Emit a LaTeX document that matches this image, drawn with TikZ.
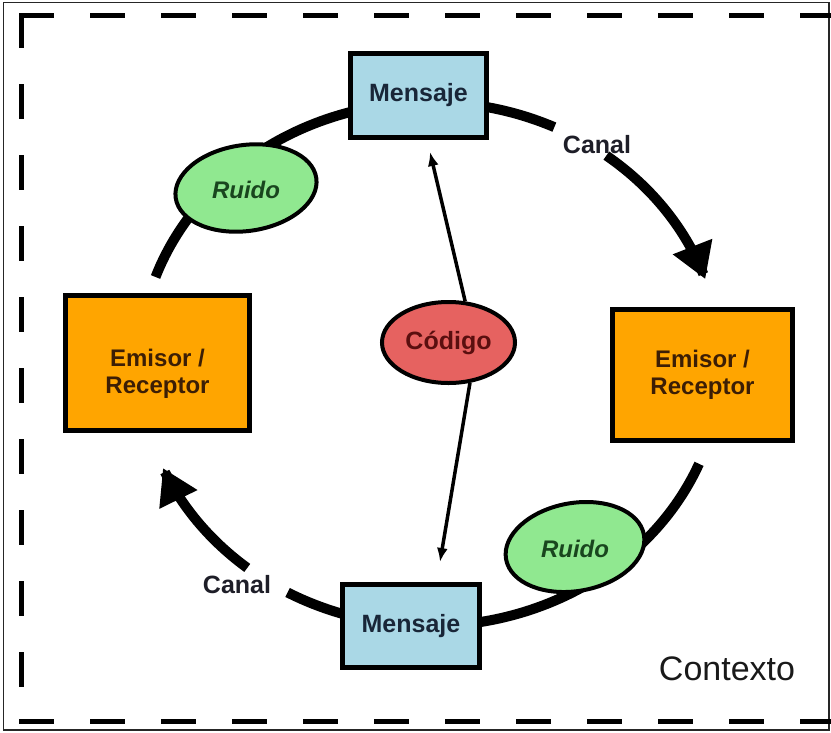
\documentclass[tikz,border=0pt]{standalone}
\usepackage{fontspec}
\setmainfont{Liberation Sans}
\usetikzlibrary{arrows.meta,shapes.geometric}
\pgfdeclarelayer{background}
\pgfsetlayers{background,main}
\definecolor{msgblue}{RGB}{170,216,230}
\definecolor{emorange}{RGB}{255,165,0}
\definecolor{ruidogreen}{RGB}{144,232,144}
\definecolor{codred}{RGB}{230,98,96}
\definecolor{msgtext}{RGB}{25,38,56}
\definecolor{emtext}{RGB}{60,30,5}
\definecolor{rutext}{RGB}{25,70,30}
\definecolor{codtext}{RGB}{90,15,15}
\definecolor{labtext}{RGB}{30,30,40}
\begin{document}
\begin{tikzpicture}[x=1pt,y=-1pt,
  msgbox/.style={draw=black, line width=5pt, fill=msgblue, inner sep=0pt,
    font=\fontsize{25}{30}\selectfont\bfseries, text=msgtext},
  embox/.style={draw=black, line width=5pt, fill=emorange, inner sep=0pt, align=center,
    font=\fontsize{24}{27}\selectfont\bfseries, text=emtext},
  codshape/.style={ellipse, draw=black, line width=4pt, fill=codred, inner sep=0pt,
    minimum width=133pt, minimum height=81pt,
    font=\fontsize{25}{30}\selectfont\bfseries, text=codtext},
  ruidoshape/.style={draw=black, line width=4pt, fill=ruidogreen},
  ruidotext/.style={inner sep=0pt, font=\fontsize{24}{28}\selectfont\bfseries\itshape, text=rutext},
  canallabel/.style={inner sep=0pt, font=\fontsize{25}{30}\selectfont\bfseries, text=labtext},
  ring/.style={line width=10pt, black},
  ringarrow/.style={ring, -{Triangle[length=35pt,width=40pt]}},
  thinarrow/.style={line width=3.5pt, black, -{Latex[length=14pt,width=11pt]}},
  frameline/.style={line width=5pt, black, dash pattern=on 35pt off 36pt}
]
\useasboundingbox (0,0) rectangle (831,732);
% outer thin border
\draw[line width=1.2pt, black!85] (3.5,2.5) rectangle (829,730);
% dashed context frame
\begin{scope}
  \clip (0,0) rectangle (831,732);
  \draw[frameline] (19,15) -- (860,15);
  \draw[frameline] (21,13) -- (21,724);
  \draw[frameline] (19,721) -- (860,721);
\end{scope}

% nodes
\node[msgbox, minimum width=136pt, minimum height=84pt] (msgtop) at (418.5,95.5) {Mensaje};
\node[msgbox, minimum width=137pt, minimum height=83pt] (msgbot) at (411,626) {Mensaje};
\node[embox, minimum width=184pt, minimum height=135pt, text depth=0pt] (emleft) at (157.5,363) {\raisebox{-4pt}{\parbox{180pt}{\centering Emisor /\\Receptor}}};
\node[embox, minimum width=180pt, minimum height=131pt] (emright) at (702.5,375) {\raisebox{-4pt}{\parbox{176pt}{\centering Emisor /\\Receptor}}};
\node[codshape] (codigo) at (448.5,342.5) {Código};

\draw[ruidoshape, rotate around={8:(246,188)}] (246,188) ellipse [x radius=71, y radius=43];
\node[ruidotext] (ruidoA) at (246,190) {Ruido};
\draw[ruidoshape, rotate around={10:(575,547)}] (575,547) ellipse [x radius=70, y radius=44];
\node[ruidotext] (ruidoB) at (575,549) {Ruido};

\node[canallabel] (canalA) at (597,145) {Canal};
\node[canallabel] (canalB) at (237,585) {Canal};
\node[inner sep=0pt, font=\fontsize{34}{39}\selectfont, text=black!90] (contexto) at (727,669) {Contexto};

% thin arrows from Código
\coordinate (tipA) at (430,152);
\coordinate (tipB) at (440,562);
\draw[thinarrow] (codigo.68) -- (tipA);
\draw[thinarrow] (codigo.-62) -- (tipB);

% ring (channel) arcs
\begin{pgfonlayer}{background}
\draw[ring] plot[domain=-82:-64.7, samples=20] ({430+291*cos(\x)},{364+262*sin(\x)});
\draw[ringarrow] plot[domain=-52.7:-18.9, samples=30] ({430+291*cos(\x)},{364+262*sin(\x)});
\draw[ring] plot[domain=22.4:85, samples=50] ({430+291*cos(\x)},{364+262*sin(\x)});
\draw[ring] plot[domain=100:119.3, samples=20] ({430+291*cos(\x)},{364+262*sin(\x)});
\draw[ringarrow] plot[domain=128.9:156.6, samples=30] ({430+291*cos(\x)},{364+262*sin(\x)});
\draw[ring] plot[domain=199.4:262, samples=50] ({430+291*cos(\x)},{364+262*sin(\x)});
\end{pgfonlayer}
\end{tikzpicture}
\end{document}
